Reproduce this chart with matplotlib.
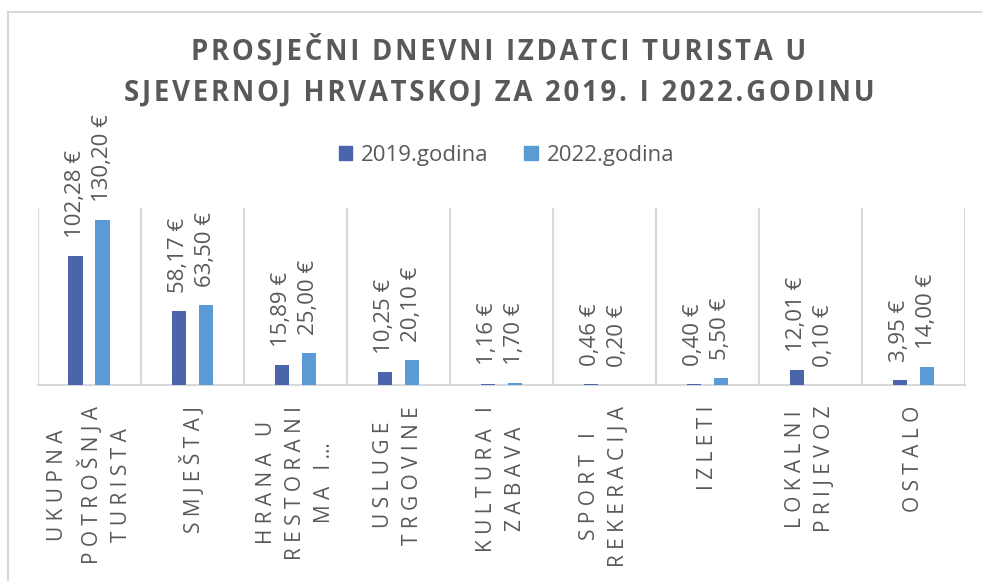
import matplotlib
matplotlib.use("Agg")
import matplotlib.pyplot as plt
from matplotlib.patches import Patch
from matplotlib.lines import Line2D
import numpy as np

plt.rcParams['font.family'] = ['Open Sans', 'DejaVu Sans']

categories = ["UKUPNA\nPOTROŠNJA\nTURISTA", "SMJEŠTAJ", "HRANA U\nRESTORANI\nMA I…",
              "USLUGE\nTRGOVINE", "KULTURA I\nZABAVA", "SPORT I\nREKERACIJA",
              "IZLETI", "LOKALNI\nPRIJEVOZ", "OSTALO"]
values_2019 = [102.28, 58.17, 15.89, 10.25, 1.16, 0.46, 0.40, 12.01, 3.95]
values_2022 = [130.20, 63.50, 25.00, 20.10, 1.70, 0.20, 5.50, 0.10, 14.00]
series_names = ["2019.godina", "2022.godina"]
title_lines = ["PROSJEČNI DNEVNI IZDATCI TURISTA U", "SJEVERNOJ HRVATSKOJ ZA 2019. I 2022.GODINU"]

c1 = "#4a65ac"
c2 = "#5b9bd5"
gray = "#595959"
grid_c = "#d9d9d9"

W, H = 982, 581
fig = plt.figure(figsize=(W / 100, H / 100), dpi=100)

# outer border (top and left visible)
fig.add_artist(Line2D([8 / W, 1.0], [1 - 12 / H, 1 - 12 / H], color=grid_c, lw=1.5, transform=fig.transFigure))
fig.add_artist(Line2D([8 / W, 8 / W], [0, 1 - 12 / H], color=grid_c, lw=1.5, transform=fig.transFigure))

left, right, bottom, top = 37.5 / W, 965 / W, 1 - 385 / H, 1 - 208 / H
ax = fig.add_axes([left, bottom, right - left, top - bottom])

x = np.arange(len(categories))
bw = 0.137
off = 0.131
b1 = ax.bar(x - off, values_2019, width=bw, color=c1, zorder=3)
b2 = ax.bar(x + off, values_2022, width=bw, color=c2, zorder=3)

def fmt(v):
    return f"{v:.2f}".replace(".", ",") + " €"

for bars, vals in ((b1, values_2019), (b2, values_2022)):
    for rect, v in zip(bars, vals):
        ax.annotate(fmt(v), (rect.get_x() + rect.get_width() / 2, rect.get_height()),
                    xytext=(0, 13), textcoords="offset points", rotation=90,
                    ha="center", va="bottom", fontsize=16, color=gray)

ax.set_xlim(-0.5, len(categories) - 0.5)
ax.set_ylim(0, 140)
ax.set_yticks([])
for s in ("top", "right", "left"):
    ax.spines[s].set_visible(False)
ax.spines["bottom"].set_color(grid_c)
ax.spines["bottom"].set_linewidth(1.5)
ax.set_xticks(np.arange(-0.5, len(categories), 1), minor=True)
ax.grid(which="minor", axis="x", color=grid_c, lw=1.5, zorder=0)
ax.tick_params(which="both", length=0)

def spaced(s):
    return "\n".join(" ".join(list(line)) for line in s.split("\n"))

ax.set_xticks(x)
ax.set_xticklabels([spaced(c) for c in categories], rotation=90, fontsize=15,
                   color=gray, va="top", ha="center", multialignment="center",
                   linespacing=1.5)
ax.tick_params(axis="x", pad=15)

hs = "\u200a"
for i, line in enumerate(title_lines):
    fig.text(0.508, 1 - (50 + 43 * i) / H, hs.join(list(line)), ha="center", va="center",
             fontsize=19.8, fontweight="bold", color=gray)

handles = [Patch(color=c1), Patch(color=c2)]
fig.legend(handles, series_names, loc="center", bbox_to_anchor=(0.516, 1 - 155 / H),
           ncol=2, frameon=False, fontsize=16, labelcolor=gray,
           handlelength=0.6, handleheight=0.6, handletextpad=0.4, columnspacing=1.6)

fig.savefig("out.png", dpi=100, facecolor="white")
